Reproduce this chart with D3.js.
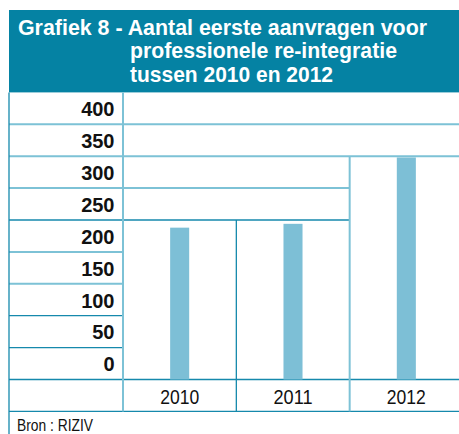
<!DOCTYPE html>
<html><head><meta charset="utf-8">
<script src="https://cdn.jsdelivr.net/npm/d3@7"></script>
<style>
html,body{margin:0;padding:0;background:#fff;}
svg{display:block;}
</style></head>
<body>
<svg id="c" width="459" height="434"></svg>
<script>
const titleLines = ["Grafiek 8 - Aantal eerste aanvragen voor", "professionele re-integratie", "tussen 2010 en 2012"];
const categories = ["2010", "2011", "2012"];
const values = [238, 244, 348];
const tickValues = [0, 50, 100, 150, 200, 250, 300, 350, 400];
const source = "Bron : RIZIV";

const svg = d3.select("#c");
const W = 459;
const left = 9, labelColRight = 123;
const y = d3.scaleLinear().domain([0, 400]).range([379.5, 124.3]);
const x = d3.scaleBand().domain(categories).range([labelColRight, 463]).padding(0);
const step = 50;
const rowH = y(0) - y(step);
const gridTop = y(450);
const xRowBottom = y(0) + rowH;

const DARK = "#1589ac", LIGHT = "#7dc2d6", BAR = "#7dbfd6", BAND = "#0582a3";

// Title band
svg.append("rect").attr("x", left).attr("y", 10).attr("width", W - left).attr("height", gridTop - 10).attr("fill", BAND);
const tl = [{x: 18, y: 34.5, len: 409}, {x: 130, y: 58, len: 267}, {x: 130, y: 81.5, len: 203}];
svg.selectAll("text.title").data(titleLines).join("text")
  .attr("class", "title")
  .attr("x", (d, i) => tl[i].x).attr("y", (d, i) => tl[i].y)
  .attr("textLength", (d, i) => tl[i].len).attr("lengthAdjust", "spacingAndGlyphs")
  .attr("fill", "#fff").attr("font-family", "Liberation Sans, Arial, sans-serif")
  .attr("font-weight", "bold").attr("font-size", 22).text(d => d);

// cell tops (merged cells)
const cellTop = values.map(v => Math.ceil(v / step) * step);

const g = svg.append("g");
function line(x1, y1, x2, y2, cls) {
  g.append("line").attr("x1", x1).attr("y1", y1).attr("x2", x2).attr("y2", y2)
    .attr("stroke", cls === "dark" ? DARK : LIGHT)
    .attr("stroke-width", cls === "dark" ? 1.3 : 2);
}

// bars
svg.append("g").selectAll("rect").data(categories).join("rect")
  .attr("x", d => x(d) + x.bandwidth() / 2 - x.bandwidth() * 0.084)
  .attr("width", x.bandwidth() * 0.168)
  .attr("y", (d, i) => y(values[i]))
  .attr("height", (d, i) => y(0) - y(values[i]))
  .attr("fill", BAR);

// horizontal grid lines at each tick level
const lightLevels = new Set([400, 350, 300, 200, 150]);
tickValues.forEach(v => {
  let xEnd = labelColRight;
  for (let i = 0; i < categories.length; i++) {
    if (v === 0 || v >= cellTop[i]) xEnd = x(categories[i]) + x.bandwidth(); else break;
  }
  if (v === 0) xEnd = W;
  categories.forEach((c, i) => {
    if (v >= cellTop[i] && x(c) >= xEnd) line(x(c), y(v), Math.min(W, x(c) + x.bandwidth()), y(v), lightLevels.has(v) ? "light" : "dark");
  });
  line(left, y(v), Math.min(W, xEnd), y(v), (lightLevels.has(v) ? "light" : "dark"));
});
line(left, xRowBottom, W, xRowBottom, "dark");

// vertical lines
line(left, gridTop, left, 434, "dark");
line(labelColRight, gridTop, labelColRight, xRowBottom, "light");
for (let i = 0; i < categories.length - 1; i++) {
  const top = Math.max(cellTop[i], cellTop[i + 1]);
  const xx = x(categories[i + 1]);
  line(xx, y(top), xx, xRowBottom, i === 0 ? "dark" : "light");
}

// y tick labels (centered in the row above each tick)
svg.append("g").selectAll("text").data(tickValues).join("text")
  .attr("x", 114.5).attr("y", d => (y(d) + y(d + step)) / 2 + 7.8)
  .attr("text-anchor", "end").attr("font-family", "Liberation Sans, Arial, sans-serif")
  .attr("font-weight", "bold").attr("font-size", 20).attr("fill", "#111")
  .text(d => d);

// x labels
svg.append("g").selectAll("text").data(categories).join("text")
  .attr("x", d => x(d) + x.bandwidth() / 2 - 19.5).attr("y", 404.3)
  .attr("textLength", 39).attr("lengthAdjust", "spacingAndGlyphs")
  .attr("font-family", "Liberation Sans, Arial, sans-serif").attr("font-size", 21).attr("fill", "#111")
  .text(d => d);

// source
svg.append("text").attr("x", 17).attr("y", 430.5)
  .attr("textLength", 76).attr("lengthAdjust", "spacingAndGlyphs")
  .attr("font-family", "Liberation Sans, Arial, sans-serif").attr("font-size", 16.5).attr("fill", "#111")
  .text(source);
</script>
</body></html>
